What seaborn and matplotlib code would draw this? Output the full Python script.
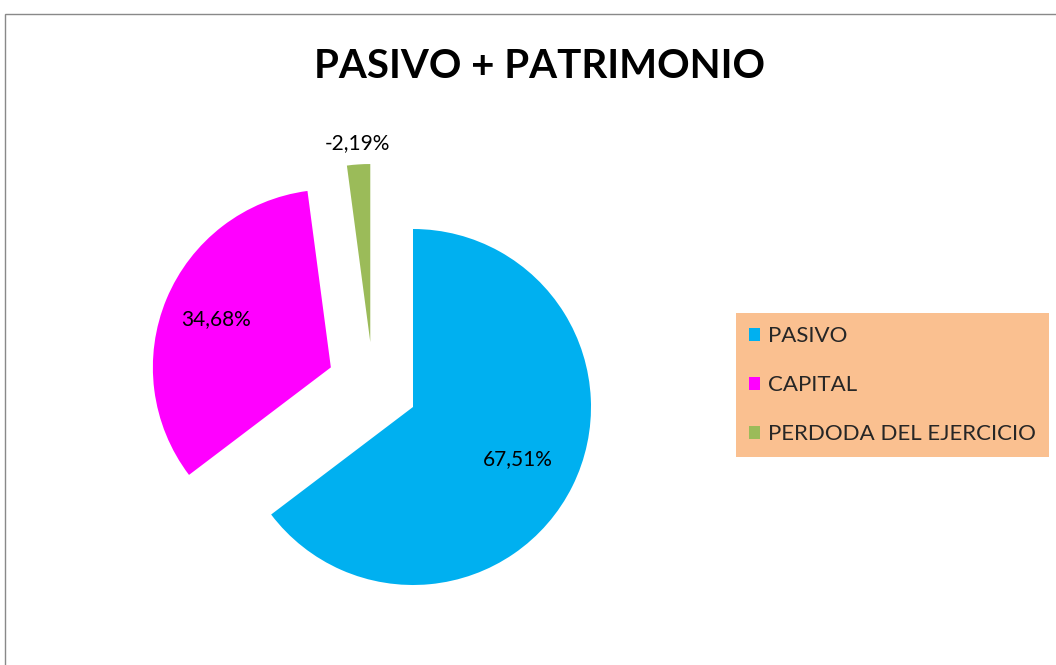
import matplotlib
matplotlib.use("Agg")
import matplotlib.pyplot as plt
import seaborn as sns
import numpy as np
from matplotlib.patches import Rectangle

sns.set_theme(style="white")
plt.rcParams['font.family'] = ['Lato', 'DejaVu Sans']

# datos
categorias = ['PASIVO', 'CAPITAL', 'PERDODA DEL EJERCICIO']
valores = [67.51, 34.68, -2.19]
colores = ['#00B0F0', '#FF00FF', '#9BBB59']
titulo = 'PASIVO + PATRIMONIO'

W, H = 1056, 665
fig = plt.figure(figsize=(W / 100, H / 100), dpi=100)
fig.patch.set_facecolor('white')

# borde del área del gráfico (cortado a la derecha y abajo)
fig.patches.append(Rectangle((4.5 / W, -0.1), 1.2, 1 - 14 / H + 0.1,
                             transform=fig.transFigure, fill=False,
                             edgecolor='#898989', linewidth=1.0))

# ejes a pantalla completa, 1 unidad = radio del pastel
R = 178.0
cx, cy = 413.0, 407.0
ax = fig.add_axes([0, 0, 1, 1])

tamanos = [abs(v) for v in valores]
wedges, _ = ax.pie(tamanos, colors=colores, startangle=90, counterclock=False,
                   explode=[0, 0.5, 0], radius=1.0,
                   wedgeprops=dict(linewidth=0))

ax.set_aspect('auto')
ax.set_xlim(-cx / R, (W - cx) / R)
ax.set_ylim(-(H - cy) / R, cy / R)
ax.axis('off')

# desplazamiento de las porciones separadas (como en Excel)
ox, oy = wedges[1].center
wedges[1].set_center((ox, oy + 0.03))
ox, oy = wedges[2].center
wedges[2].set_center((ox - 0.24, oy + 0.365))

distancias = [0.66, 0.70, 1.12]
for w, v, d in zip(wedges, valores, distancias):
    ang = np.deg2rad((w.theta1 + w.theta2) / 2)
    x0, y0 = w.center
    txt = f"{v:.2f}%".replace('.', ',')
    ax.text(x0 + d * np.cos(ang), y0 + d * np.sin(ang), txt,
            ha='center', va='center', fontsize=15, color='black')

fig.text(539 / W, 1 - 66 / H, titulo, ha='center', va='center',
         fontsize=29, fontweight='bold', color='black')

leg = fig.legend(wedges, categorias, loc='upper left',
                 bbox_to_anchor=(736 / W, 1 - 313 / H), borderaxespad=0,
                 fontsize=16, handlelength=0.5, handleheight=0.5,
                 handletextpad=0.35, labelspacing=1.3, borderpad=0.6,
                 frameon=True, fancybox=False)
leg.get_frame().set_facecolor('#FAC090')
leg.get_frame().set_edgecolor('none')
leg.get_frame().set_alpha(1)

fig.savefig('out.png', dpi=100)
